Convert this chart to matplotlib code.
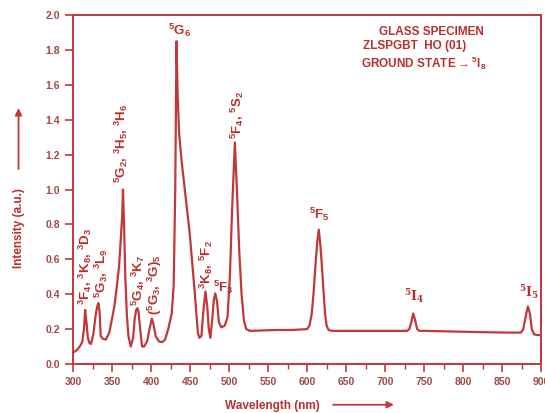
import numpy as np
import matplotlib
matplotlib.use("Agg")
import matplotlib.pyplot as plt
from matplotlib.ticker import MultipleLocator, FormatStrFormatter

plt.rcParams["font.family"] = ["Liberation Sans", "DejaVu Sans"]
plt.rcParams["font.weight"] = "bold"
plt.rcParams["mathtext.fontset"] = "custom"
plt.rcParams["mathtext.bf"] = "Liberation Sans:bold"
plt.rcParams["mathtext.rm"] = "Liberation Sans:bold"
plt.rcParams["mathtext.default"] = "bf"

LINE = "#c0383a"
TXT = "#b8302f"
TICK = "#a34848"

# absorption spectrum
wavelength = [300, 305, 310, 312, 314, 315.5, 317, 319, 321, 323, 326, 329, 331, 332.5,
              334, 335.5, 338, 342, 346.5, 350, 353, 356, 359, 361, 363, 364, 365.5,
              367, 369, 371, 374, 377, 379, 381, 382.5, 384, 386, 388.5, 391, 395, 398,
              401, 403, 406, 410, 414, 418, 422, 426.5, 429, 431, 432.6, 434, 436, 439,
              444, 449.5, 456, 460, 462, 464.5, 467, 469.7, 472, 474, 476, 478.5, 480.5,
              482.3, 484.5, 487, 490, 494.5, 498, 501, 504, 507.4, 510, 513, 516, 519,
              522, 527, 540, 560, 580, 600, 603, 606, 608.5, 610.6, 613, 615, 617, 619,
              621, 623, 625, 627.5, 632, 650, 680, 700, 720, 728, 731, 733.5, 736, 738.5,
              741, 744, 750, 780, 820, 860, 874, 877, 880, 883, 885.5, 888, 891, 895, 900]
intensity = [0.065, 0.08, 0.11, 0.13, 0.2, 0.31, 0.25, 0.15, 0.12, 0.115, 0.17, 0.28, 0.33, 0.35,
             0.3, 0.16, 0.145, 0.14, 0.18, 0.26, 0.33, 0.44, 0.56, 0.7, 0.85, 1.0, 0.78,
             0.5, 0.28, 0.16, 0.1, 0.15, 0.26, 0.31, 0.32, 0.3, 0.2, 0.1, 0.1, 0.13, 0.2,
             0.26, 0.23, 0.16, 0.13, 0.125, 0.14, 0.2, 0.29, 0.45, 1.0, 1.85, 1.55, 1.32, 1.17,
             0.97, 0.75, 0.41, 0.18, 0.15, 0.16, 0.3, 0.415, 0.33, 0.2, 0.15, 0.26, 0.37,
             0.405, 0.36, 0.24, 0.21, 0.22, 0.27, 0.5, 0.9, 1.27, 1.0, 0.65, 0.4, 0.25,
             0.2, 0.19, 0.192, 0.195, 0.195, 0.2, 0.22, 0.29, 0.42, 0.56, 0.7, 0.77, 0.68, 0.56,
             0.42, 0.29, 0.22, 0.195, 0.19, 0.19, 0.19, 0.19, 0.19, 0.19, 0.2, 0.24, 0.29, 0.25,
             0.2, 0.19, 0.19, 0.187, 0.183, 0.18, 0.18, 0.2, 0.27, 0.33, 0.29, 0.2, 0.17, 0.166, 0.165]

# peak labels: text, x, y, rotation
peak_text = [r"$^3$F$_4$, $^3$K$_8$, $^3$D$_3$", r"$^5$G$_3$, $^3$L$_9$",
             r"$^5$G$_2$, $^3$H$_5$, $^3$H$_6$", r"$^5$G$_4$, $^3$K$_7$",
             r"($^5$G$_3$, $^3$G)$_5$", r"$^5$G$_6$", r"$^3$K$_8$, $^5$F$_2$",
             r"$^5$F$_3$", r"$^5$F$_4$, $^5$S$_2$", r"$^5$F$_5$"]
peak_x = [316, 336, 362, 384, 405, 436, 471, 492, 510, 616]
peak_y = [0.34, 0.38, 1.04, 0.33, 0.28, 1.86, 0.43, 0.39, 1.29, 0.81]
peak_rot = [90, 90, 90, 90, 90, 0, 90, 0, 90, 0]

ir_text = [r"$^5$I$_4$", r"$^5$I$_5$"]
ir_x = [737, 884]
ir_y = [0.34, 0.36]

fig = plt.figure(figsize=(5.45, 4.13), dpi=100)
ax = fig.add_axes([0.134, 0.1186, 0.859, 0.845])

ax.plot(wavelength, intensity, color=LINE, lw=1.6)

ax.set_xlim(300, 900)
ax.set_ylim(0, 2.0)
ax.xaxis.set_major_locator(MultipleLocator(50))
ax.xaxis.set_minor_locator(MultipleLocator(25))
ax.yaxis.set_major_locator(MultipleLocator(0.2))
ax.yaxis.set_major_formatter(FormatStrFormatter("%.1f"))

for s in ax.spines.values():
    s.set_color(LINE)
    s.set_linewidth(1.4)
ax.tick_params(which="major", direction="out", length=6, width=1.2, color=LINE,
               labelcolor=TICK, labelsize=7.5)
ax.tick_params(which="minor", direction="out", length=3.5, width=1.0, color=LINE)
for lab in ax.get_xticklabels() + ax.get_yticklabels():
    lab.set_fontweight("bold")

for t, x, y, r in zip(peak_text, peak_x, peak_y, peak_rot):
    ax.text(x, y, t, rotation=r, ha="center", va="bottom", color=TXT,
            fontsize=9.5, fontweight="bold")
for t, x, y in zip(ir_text, ir_x, ir_y):
    ax.text(x, y, t, ha="center", va="bottom", color=TXT, fontsize=9,
            fontweight="bold", family="DejaVu Serif", math_fontfamily="dejavuserif")

ax.text(0.765, 0.951, "GLASS SPECIMEN", transform=ax.transAxes, ha="center", va="center",
        color=TXT, fontsize=8.5, fontweight="bold")
ax.text(0.62, 0.911, "ZLSPGBT  HO (01)", transform=ax.transAxes, ha="left", va="center",
        color=TXT, fontsize=8.5, fontweight="bold")
ax.text(0.75, 0.862, r"GROUND STATE$\rightarrow$$^5$I$_8$", transform=ax.transAxes,
        ha="center", va="center", color=TXT, fontsize=8.5, fontweight="bold")

fig.text(0.034, 0.448, "Intensity (a.u.)", rotation=90, ha="center", va="center",
         color=TXT, fontsize=8.5, fontweight="bold")
fig.text(0.499, 0.018, "Wavelength (nm)", ha="center", va="center",
         color=TXT, fontsize=8.5, fontweight="bold")
ax.annotate("", xy=(0.034, 0.745), xytext=(0.034, 0.584), xycoords="figure fraction",
            arrowprops=dict(arrowstyle="-|>", color=LINE, lw=1.3, mutation_scale=10))
ax.annotate("", xy=(0.728, 0.02), xytext=(0.606, 0.02), xycoords="figure fraction",
            arrowprops=dict(arrowstyle="-|>", color=LINE, lw=1.3, mutation_scale=10))

fig.savefig("out.png", dpi=100)
